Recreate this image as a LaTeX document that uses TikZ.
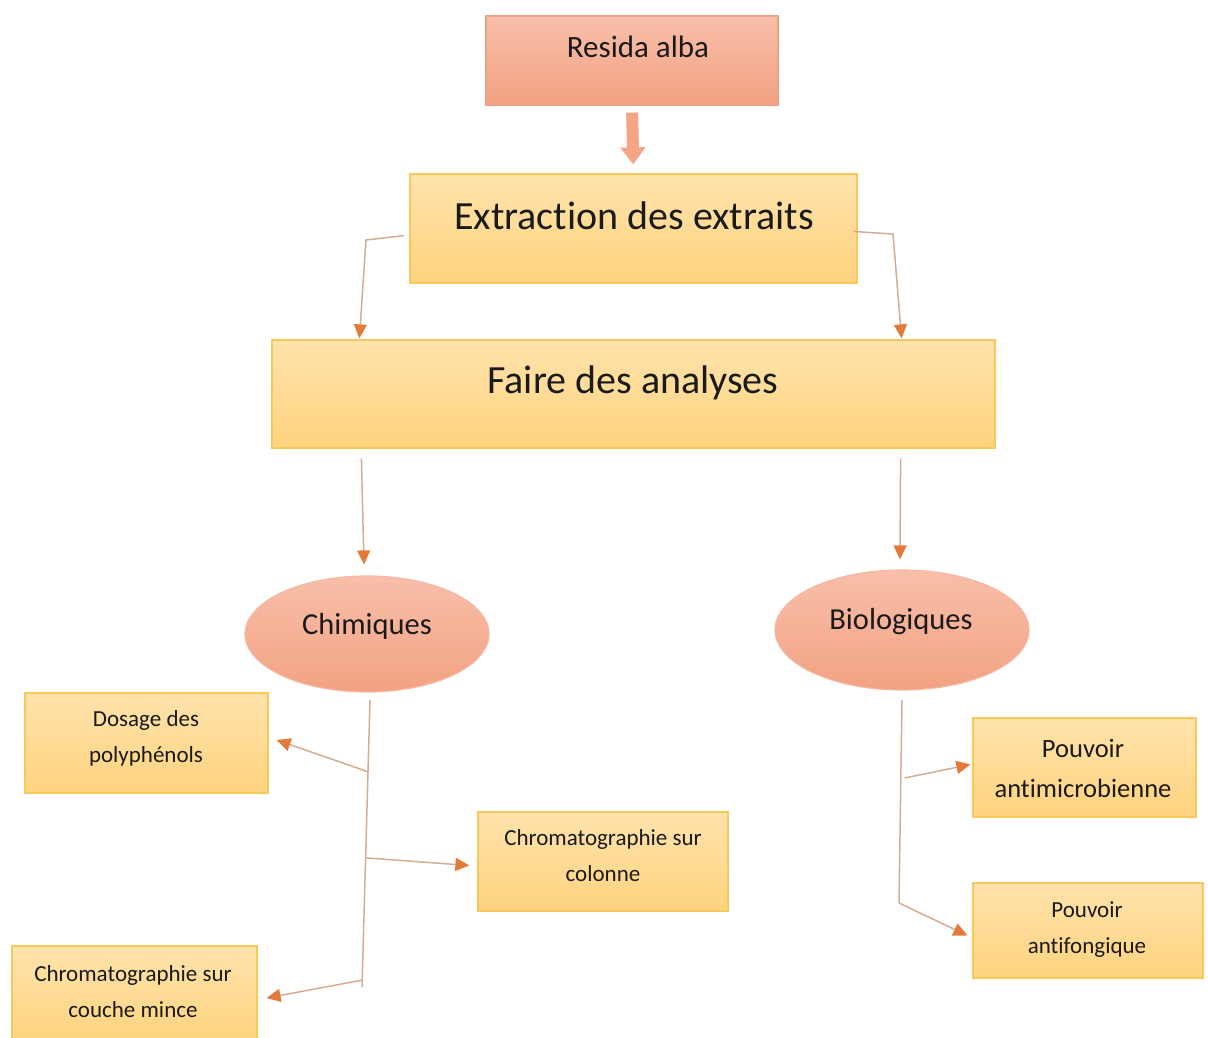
\documentclass[tikz,border=0pt]{standalone}
\usepackage{fontspec}
\setmainfont{Carlito}[Ligatures=NoCommon]
\usetikzlibrary{arrows.meta,shapes.geometric,calc}

\definecolor{salmonTop}{HTML}{F8BFAA}
\definecolor{salmonBot}{HTML}{F2A282}
\definecolor{salmonLine}{HTML}{EBA286}
\definecolor{yellowTop}{HTML}{FFE3AC}
\definecolor{yellowBot}{HTML}{FFD37E}
\definecolor{yellowLine}{HTML}{F7C95A}
\definecolor{linkc}{HTML}{D6AA94}
\definecolor{tipc}{HTML}{E37A3C}
\definecolor{inkc}{HTML}{1A1A1A}

\tikzset{
  salmonbox/.style={draw=salmonLine, line width=1.2pt, top color=salmonTop, bottom color=salmonBot, inner sep=0pt},
  yellowbox/.style={draw=yellowLine, line width=1.2pt, top color=yellowTop, bottom color=yellowBot, inner sep=0pt},
  bubble/.style={ellipse, draw=salmonTop!80!salmonLine, line width=1.2pt, top color=salmonTop, bottom color=salmonBot, inner sep=0pt},
  txt/.style={text=inkc, align=center, inner sep=0pt},
  link/.style={draw=linkc, line width=1.5pt, -{Triangle[color=tipc, length=14pt, width=13pt]}},
  trunk/.style={draw=linkc, line width=1.5pt},
  fatarrow/.style={draw=salmonBot!90!salmonTop, line width=12pt, -{Triangle[length=17pt, width=24pt]}}
}

\begin{document}
\begin{tikzpicture}[x=1pt, y=-1pt]
    \useasboundingbox (0,0) rectangle (1208,1037);

    % Define nodes
    \node[salmonbox, minimum width=292pt, minimum height=89pt]  (resida)   at (632,60.5)   {};
    \node[yellowbox, minimum width=447pt, minimum height=109pt] (extract)  at (633.5,228.5) {};
    \node[yellowbox, minimum width=723pt, minimum height=108pt] (analyse)  at (633.5,394)  {};
    \node[bubble, minimum width=244pt, minimum height=116pt]    (chim)     at (367,634)    {};
    \node[bubble, minimum width=254pt, minimum height=120pt]    (bio)      at (902,630)    {};
    \node[yellowbox, minimum width=243pt, minimum height=100pt] (dosage)   at (146.5,743)  {};
    \node[yellowbox, minimum width=250pt, minimum height=99pt]  (colonne)  at (603,861.5)  {};
    \node[yellowbox, minimum width=245pt, minimum height=96pt]  (ccm)      at (134.5,994)  {};
    \node[yellowbox, minimum width=223pt, minimum height=99pt]  (microb)   at (1084.5,767.5) {};
    \node[yellowbox, minimum width=230pt, minimum height=95pt]  (fong)     at (1088,930.5) {};

    % Texts
    \node[txt, font=\fontsize{31}{36}\selectfont] (resida-t)  at (638,47)  {Resida alba};
    \node[txt, font=\fontsize{40}{46}\selectfont] (extract-t) at (634,216) {Extraction des extraits};
    \node[txt, font=\fontsize{40}{46}\selectfont] (analyse-t) at (633,383) {Faire des analyses};
    \node[txt, font=\fontsize{30.5}{36}\selectfont] (chim-t)  at (367,626) {Chimiques};
    \node[txt, font=\fontsize{30.5}{36}\selectfont] (bio-t)   at (901,622) {Biologiques};
    \node[txt, font=\fontsize{23}{36}\selectfont] (dosage-t)  at (146,738) {Dosage des\\polyphénols};
    \node[txt, font=\fontsize{23}{36}\selectfont] (colonne-t) at (603,856) {Chromatographie sur\\colonne};
    \node[txt, font=\fontsize{23}{36}\selectfont] (ccm-t)     at (133,992) {Chromatographie sur\\couche mince};
    \node[txt, font=\fontsize{26.5}{40}\selectfont] (microb-t) at (1083,768) {Pouvoir\\antimicrobienne};
    \node[txt, font=\fontsize{23}{36}\selectfont] (fong-t)    at (1087,930) {Pouvoir\\antifongique};

    % Connect nodes
    \draw[fatarrow, shorten <=7pt, shorten >=9pt] (resida.south) -- (extract.north);

    \coordinate (eL) at (366,240);
    \coordinate (eR) at (893,234);
    \draw[link] ([shift={(-5pt,-7pt)}]extract.west) -- (eL) -- ([shift={(88pt,1pt)}]analyse.north west);
    \draw[link] ([shift={(-4pt,-3pt)}]extract.east) -- (eR) -- ([shift={(-94pt,1pt)}]analyse.north east);

    \draw[link] ([shift={(90pt,-10pt)}]analyse.south west) -- ([shift={(-3pt,11pt)}]chim.north);
    \draw[link] ([shift={(-95pt,-10pt)}]analyse.south east) -- ([shift={(-2pt,10pt)}]bio.north);

    % Chimiques branches
    \coordinate (cTop) at (370,700);
    \coordinate (cBot) at (362,987);
    \draw[trunk] (cTop) -- (cBot);
    \draw[link] ($(cTop)!0.25!(cBot)$) -- ([shift={(8pt,3pt)}]dosage.east);
    \draw[link] ($(cTop)!0.55!(cBot)$) -- ([shift={(-8pt,-4pt)}]colonne.west);
    \draw[link] ($(cTop)!0.976!(cBot)$) -- ([shift={(9pt,-4pt)}]ccm.east);

    % Biologiques branches
    \coordinate (bTop) at (902,700);
    \coordinate (bBot) at (899,903);
    \draw[trunk] (bTop) -- (bBot);
    \draw[link] ([xshift=4pt]$(bTop)!0.384!(bBot)$) -- ([shift={(-2pt,3pt)}]microb.west);
    \draw[link] (bBot) -- ([shift={(-5pt,-5pt)}]fong.west);
\end{tikzpicture}
\end{document}
